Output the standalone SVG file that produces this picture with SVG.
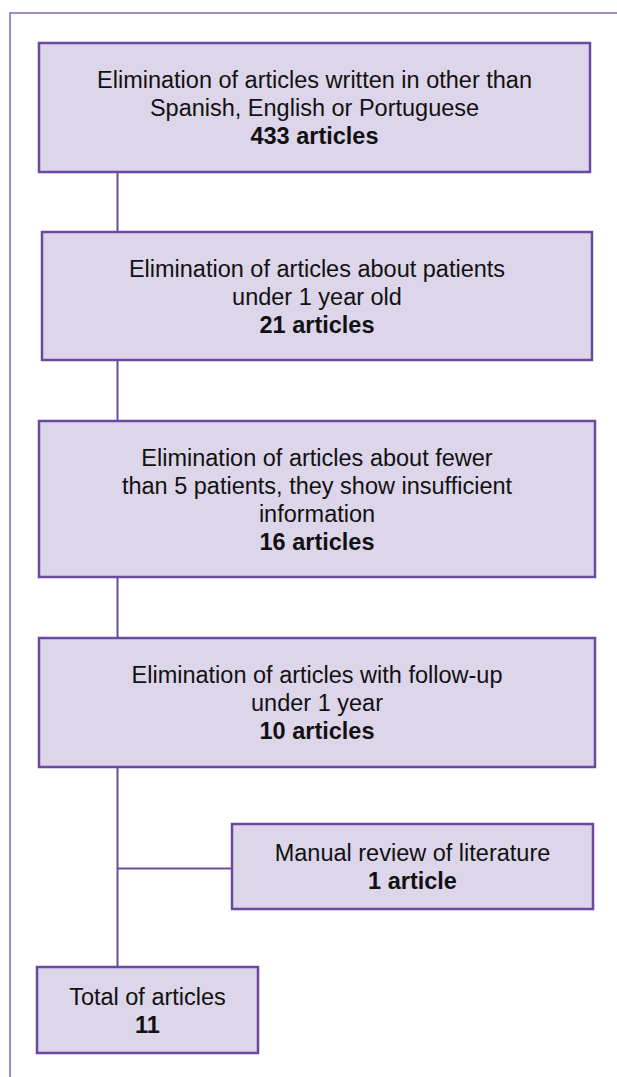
<svg xmlns="http://www.w3.org/2000/svg" width="617" height="1077" viewBox="0 0 617 1077">
<style>
.box{fill:#ddd5ea;stroke:#6a4a9f;stroke-width:2.5}
.conn{stroke:#6a4a9f;stroke-width:2;fill:none}
.frame{stroke:#8468b8;stroke-width:1.5;fill:none}
text{font-family:"Liberation Sans",Arial,Helvetica,sans-serif;font-size:23.5px;fill:#111;text-anchor:middle}
.b{font-weight:bold}
</style>
<rect width="617" height="1077" fill="#ffffff"/>
<path class="frame" d="M10,1077 V13 H617"/>
<g id="connectors">
<line class="conn" x1="117.5" y1="172" x2="117.5" y2="232"/>
<line class="conn" x1="117.5" y1="360" x2="117.5" y2="421"/>
<line class="conn" x1="117.5" y1="577" x2="117.5" y2="638"/>
<line class="conn" x1="117.5" y1="767" x2="117.5" y2="967"/>
<line class="conn" x1="117.5" y1="868.5" x2="232" y2="868.5"/>
</g>
<g id="n1">
<rect class="box" x="39" y="43" width="551" height="129"/>
<text x="314.5" y="88">Elimination of articles written in other than</text>
<text x="314.5" y="116">Spanish, English or Portuguese</text>
<text class="b" x="314.5" y="144">433 articles</text>
</g>
<g id="n2">
<rect class="box" x="42" y="232" width="550" height="128"/>
<text x="317" y="276.5">Elimination of articles about patients</text>
<text x="317" y="304.5">under 1 year old</text>
<text class="b" x="317" y="332.5">21 articles</text>
</g>
<g id="n3">
<rect class="box" x="39" y="421" width="556" height="156"/>
<text x="317" y="465.5">Elimination of articles about fewer</text>
<text x="317" y="493.5">than 5 patients, they show insufficient</text>
<text x="317" y="521.5">information</text>
<text class="b" x="317" y="549.5">16 articles</text>
</g>
<g id="n4">
<rect class="box" x="39" y="638" width="556" height="129"/>
<text x="317" y="683">Elimination of articles with follow-up</text>
<text x="317" y="711">under 1 year</text>
<text class="b" x="317" y="739">10 articles</text>
</g>
<g id="n5">
<rect class="box" x="232" y="824" width="361" height="85"/>
<text x="412.5" y="861">Manual review of literature</text>
<text class="b" x="412.5" y="889">1 article</text>
</g>
<g id="n6">
<rect class="box" x="37" y="967" width="221" height="86"/>
<text x="147.5" y="1004.5">Total of articles</text>
<text class="b" x="147.5" y="1032.5">11</text>
</g>
</svg>
